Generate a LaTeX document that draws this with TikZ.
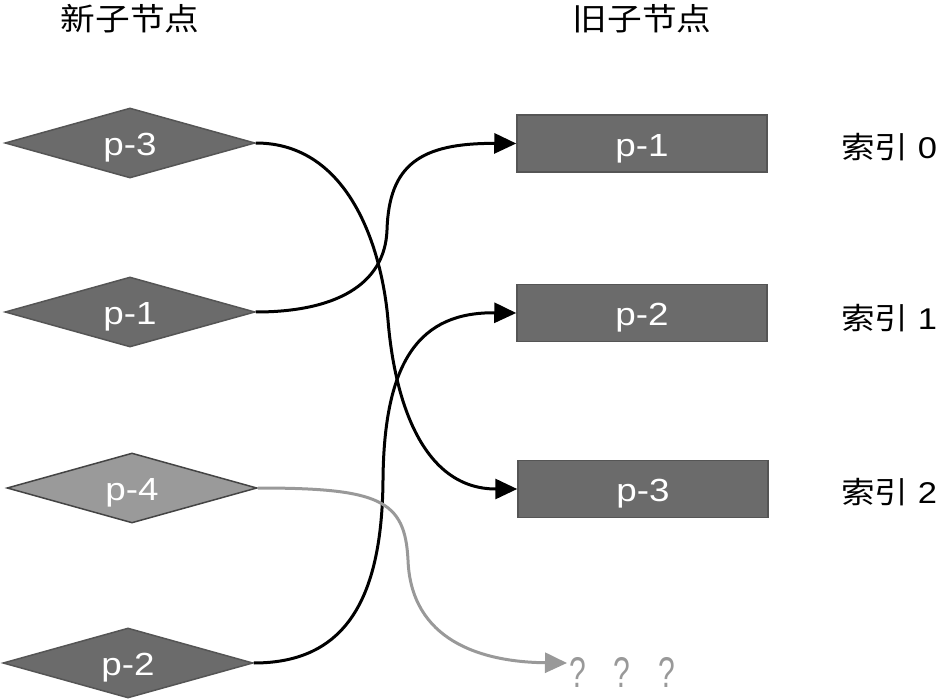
\documentclass[tikz,border=0pt]{standalone}
\usepackage{fontspec}
\setmainfont{Liberation Sans}
\newfontfamily\cjk[FakeStretch=1.12]{Noto Sans CJK SC}
\newfontfamily\wsans[FakeStretch=1.15]{Liberation Sans}
\newfontfamily\nsans[FakeStretch=0.7]{Liberation Sans}
\usetikzlibrary{shapes.geometric,arrows.meta}
\definecolor{dk}{HTML}{6B6B6B}
\definecolor{dkb}{HTML}{555555}
\definecolor{lt}{HTML}{9A9A9A}
\definecolor{ltb}{HTML}{444444}
\definecolor{gr}{HTML}{999999}
\tikzset{
  newnode/.style={diamond, aspect=3.57, minimum width=250pt, minimum height=70pt, inner sep=0pt,
    fill=dk, draw=dkb, line width=1.5pt, text=white, font=\wsans\fontsize{32}{36}\selectfont},
  newlight/.style={newnode, fill=lt, draw=ltb},
  oldnode/.style={rectangle, minimum width=250pt, minimum height=57pt, inner sep=0pt,
    fill=dk, draw=dkb, line width=1.5pt, text=white, font=\wsans\fontsize{32}{36}\selectfont},
  lbl/.style={font=\wsans\fontsize{30}{34}\selectfont, text=black},
  hdr/.style={font=\cjk\fontsize{31}{36}\selectfont, text=black},
  conn/.style={line width=3pt, -{Triangle[length=22pt,width=20pt]}},
  gconn/.style={conn, draw=gr, -{Triangle[length=22pt,width=20pt,fill=gr]}}
}
\newcommand{\dn}[1]{\raisebox{-5pt}[\height][\depth]{#1}}
\begin{document}
\begin{tikzpicture}[x=1pt,y=-1pt]
\useasboundingbox (0,0) rectangle (942,700);
\node[hdr] (h1) at (130,19) {新子节点};
\node[hdr] (h2) at (642,19) {旧子节点};

\node[newnode] (n3) at (130,143) {\dn{p-3}};
\node[newnode] (n1) at (130,312) {\dn{p-1}};
\node[newlight] (n4) at (132,488) {\dn{p-4}};
\node[newnode] (n2) at (128,663) {\dn{p-2}};

\node[oldnode] (o1) at (642,143.5) {\dn{p-1}};
\node[oldnode] (o2) at (642,313) {\dn{p-2}};
\node[oldnode] (o3) at (643,489) {\dn{p-3}};

\node[lbl, anchor=west, inner sep=0pt] (i0) at (841,147) {{\cjk\fontsize{30}{34}\selectfont 索引} 0};
\node[lbl, anchor=west, inner sep=0pt] (i1) at (841,318) {{\cjk\fontsize{30}{34}\selectfont 索引} 1};
\node[lbl, anchor=west, inner sep=0pt] (i2) at (841,492) {{\cjk\fontsize{30}{34}\selectfont 索引} 2};

\node[font=\nsans\fontsize{43}{48}\selectfont, text=gr, anchor=base west, inner sep=0pt] (q) at (569,687) {?\hspace{28pt}?\hspace{28pt}?};
\coordinate (qa) at (567,663);

\coordinate (m3) at (388,320);
\coordinate (m1) at (387,230);
\coordinate (m2) at (383,480);
\coordinate (m4) at (408,560);

\draw[conn] (n3.east) .. controls (350,143) and (382,250) .. (m3)
  .. controls (394,395) and (420,489) .. (o3.west);
\draw[conn] (n1.east) .. controls (335,312) and (385,285) .. (m1)
  .. controls (389,165) and (420,143) .. (o1.west);
\draw[conn] (n2.east) .. controls (345,663) and (382,600) .. (m2)
  .. controls (384,360) and (420,312) .. (o2.west);
\draw[gconn] (n4.east) .. controls (380,488) and (405,500) .. (m4)
  .. controls (411,640) and (480,662) .. (qa);
\end{tikzpicture}
\end{document}
